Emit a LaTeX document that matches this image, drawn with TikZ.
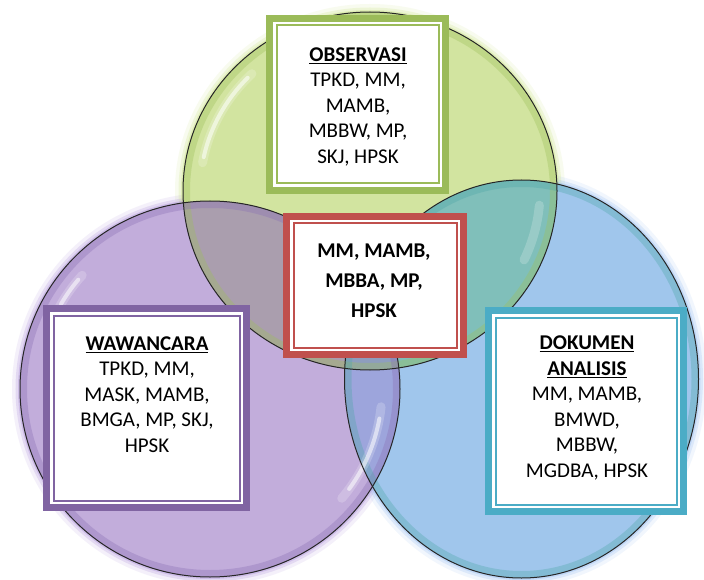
\documentclass[tikz,border=0pt]{standalone}
\usepackage{fontspec}
\setmainfont{Carlito}
\definecolor{gfill}{HTML}{D2E4A0}
\definecolor{pfill}{HTML}{C2ADDB}
\definecolor{bfill}{HTML}{A0C6EC}
\definecolor{gpfill}{HTML}{AA9EAE}
\definecolor{gbfill}{HTML}{80BFBA}
\definecolor{pbfill}{HTML}{9DA5DC}
\definecolor{gpbfill}{HTML}{8E9EBE}
\definecolor{gglow}{HTML}{C9E27F}
\definecolor{pglow}{HTML}{A98BD8}
\definecolor{bglow}{HTML}{8FB8F0}
\definecolor{grim}{HTML}{9DBF5A}
\definecolor{prim}{HTML}{8A6FB5}
\definecolor{brim}{HTML}{4FA7A8}
\definecolor{boxgreen}{HTML}{9BBB59}
\definecolor{boxred}{HTML}{C0504D}
\definecolor{boxpurple}{HTML}{8064A2}
\definecolor{boxblue}{HTML}{4BACC6}
\tikzset{
  frame/.style={draw=#1, fill=white, line width=7pt, inner sep=0pt, outer sep=0pt},
  innerline/.style={draw=#1, line width=2pt},
  txt/.style={align=center, inner sep=0pt, anchor=north, font=\fontsize{21}{25.5}\selectfont},
  txtbold/.style={align=center, inner sep=0pt, anchor=north, font=\fontsize{21}{30}\selectfont\bfseries},
  outline/.style={draw=black!85, line width=1pt},
  glow/.style={draw=#1, line width=16pt, opacity=0.12},
  glowb/.style={draw=#1, line width=9pt, opacity=0.22},
  glowc/.style={draw=#1, line width=4pt, opacity=0.35},
  rim/.style={draw=#1, line width=14pt, opacity=0.35},
  shine/.style={draw=white, line width=4pt, opacity=0.55, line cap=round},
  shinesoft/.style={draw=white, line width=9pt, opacity=0.2, line cap=round}
}
\newcommand{\EG}{(370,191) ellipse [x radius=187, y radius=179]}
\newcommand{\EP}{(210,389) ellipse [x radius=190, y radius=188]}
\newcommand{\EB}{(521.5,379) ellipse [x radius=177, y radius=199]}
\begin{document}
\begin{tikzpicture}[x=1pt,y=-1pt]
\useasboundingbox[fill=white] (0,0) rectangle (704,580);
% glows
\foreach \st in {glow,glowb,glowc}{
  \draw[\st=gglow] \EG;
  \draw[\st=pglow] \EP;
  \draw[\st=bglow] \EB;
}
% fills
\fill[gfill] \EG;
\fill[pfill] \EP;
\fill[bfill] \EB;
\begin{scope}\clip \EG; \fill[gpfill] \EP; \end{scope}
\begin{scope}\clip \EG; \fill[gbfill] \EB; \end{scope}
\begin{scope}\clip \EP; \fill[pbfill] \EB; \end{scope}
\begin{scope}\clip \EG; \clip \EP; \fill[gpbfill] \EB; \end{scope}
% inner rims
\begin{scope}\clip \EG; \draw[rim=grim] \EG; \end{scope}
\begin{scope}\clip \EP; \draw[rim=prim] \EP; \end{scope}
\begin{scope}\clip \EB; \draw[rim=brim] \EB; \end{scope}
% highlights
\draw[shinesoft] (370,191) ++(190:170 and 163) arc [start angle=190, end angle=226, x radius=170, y radius=163];
\draw[shine] (370,191) ++(192:170 and 163) arc [start angle=192, end angle=224, x radius=170, y radius=163];
\draw[shinesoft] (370,191) ++(5:170 and 163) arc [start angle=5, end angle=25, x radius=170, y radius=163];
\draw[shinesoft] (210,389) ++(208:172 and 170) arc [start angle=208, end angle=222, x radius=172, y radius=170];
\draw[shine] (210,389) ++(210:172 and 170) arc [start angle=210, end angle=220, x radius=172, y radius=170];
\draw[shinesoft] (210,389) ++(6:172 and 170) arc [start angle=6, end angle=40, x radius=172, y radius=170];
\draw[shine] (210,389) ++(10:172 and 170) arc [start angle=10, end angle=36, x radius=172, y radius=170];
% outlines
\draw[outline] \EG;
\draw[outline] \EP;
\draw[outline] \EB;
% boxes
\node[frame=boxgreen, minimum width=176pt, minimum height=172pt] (gbox) at (357.5,104.5) {};
\node[frame=boxred, minimum width=177pt, minimum height=138pt] (rbox) at (375,285.5) {};
\node[frame=boxpurple, minimum width=200pt, minimum height=199pt] (pbox) at (146.5,408) {};
\node[frame=boxblue, minimum width=195pt, minimum height=201pt] (bbox) at (586,411) {};
\draw[innerline=boxgreen] ([shift={(7,7)}]gbox.north west) rectangle ([shift={(-7,-7)}]gbox.south east);
\draw[innerline=boxred] ([shift={(7,7)}]rbox.north west) rectangle ([shift={(-7,-7)}]rbox.south east);
\draw[innerline=boxpurple] ([shift={(7,7)}]pbox.north west) rectangle ([shift={(-7,-7)}]pbox.south east);
\draw[innerline=boxblue] ([shift={(7,7)}]bbox.north west) rectangle ([shift={(-7,-7)}]bbox.south east);
% texts
\node[txt] (gtext) at (358,47.5) {\underline{\textbf{OBSERVASI}}\\TPKD, MM,\\MAMB,\\MBBW, MP,\\SKJ, HPSK};
\node[txtbold] (rtext) at (374,243.5) {MM, MAMB,\\MBBA, MP,\\HPSK};
\node[txt] (ptext) at (147,336.5) {\underline{\textbf{WAWANCARA}}\\TPKD, MM,\\MASK, MAMB,\\BMGA, MP, SKJ,\\HPSK};
\node[txt] (btext) at (587,336) {\underline{\textbf{DOKUMEN}}\\\underline{\textbf{ANALISIS}}\\MM, MAMB,\\BMWD,\\MBBW,\\MGDBA, HPSK};
\end{tikzpicture}
\end{document}
